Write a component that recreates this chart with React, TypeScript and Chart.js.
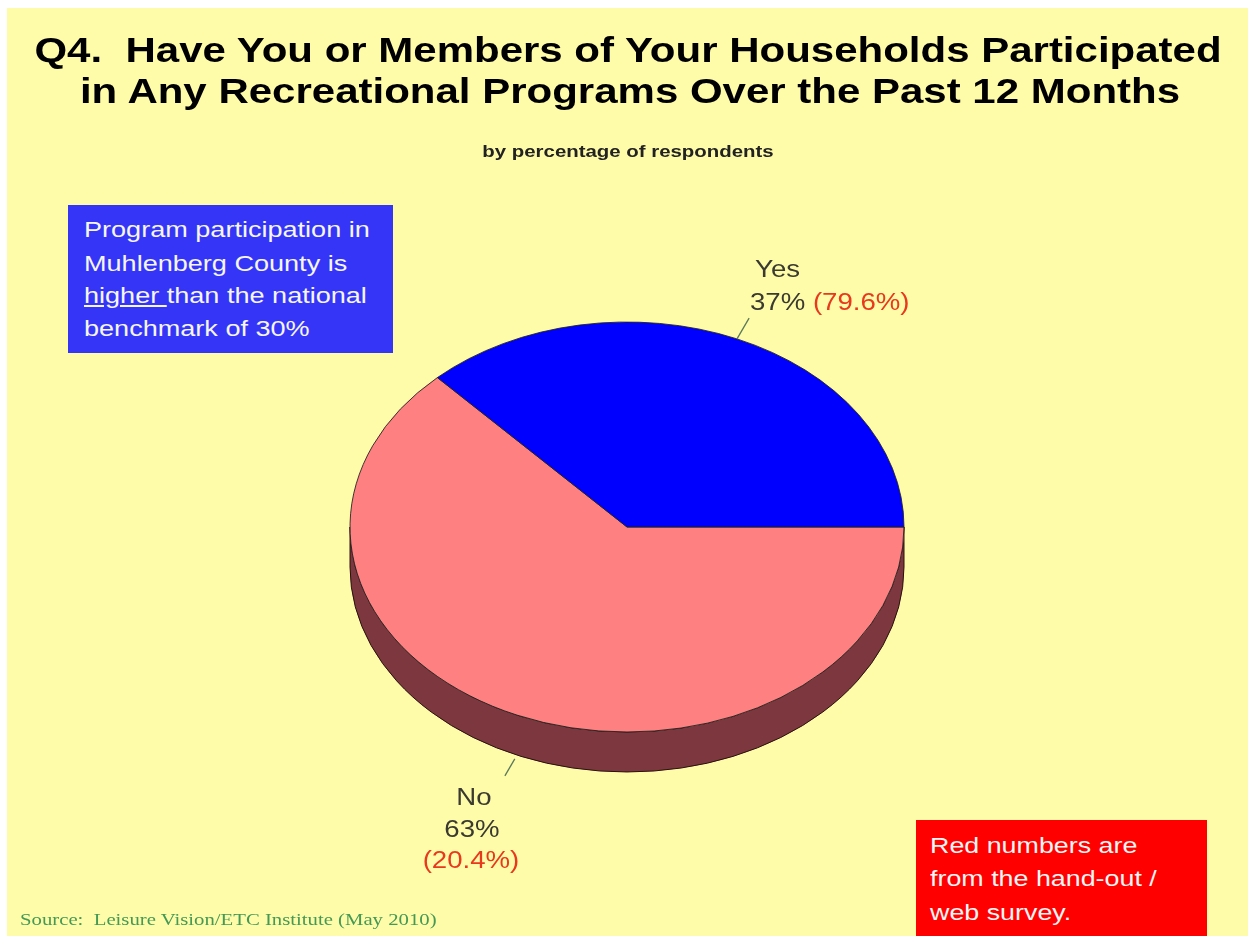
import React, { useEffect, useRef } from 'react';
import { Chart, registerables } from 'chart.js';

Chart.register(...registerables);

// ---- data ----
const categories = ['No', 'Yes'];
const surveyValues = [63, 37];
const handoutValues = [20.4, 79.6];
const sliceColors = ['#FF8080', '#0000FF'];
const sideColors = ['#7D383F', '#00007F'];

const TILT = 0.74;
const DEPTH = 40;

const pie3d = {
  id: 'pie3d',
  beforeDatasetsDraw(chart: any) {
    const ctx = chart.ctx;
    const meta = chart.getDatasetMeta(0);
    const a0 = meta.data[0];
    const x = a0.x, y = a0.y, r = a0.outerRadius;
    const ry = r * TILT;
    meta.data.forEach((arc: any, i: number) => {
      const s = arc.startAngle, e = arc.endAngle;
      const norm = (v: number) => ((v % (2 * Math.PI)) + 2 * Math.PI) % (2 * Math.PI);
      const ns = norm(s);
      const ne = ns + (e - s);
      const ranges: [number, number][] = [];
      for (const off of [0, 2 * Math.PI, -2 * Math.PI]) {
        const a = Math.max(ns + off, 0), b = Math.min(ne + off, Math.PI);
        if (a < b) ranges.push([a, b]);
      }
      ranges.forEach(([a, b]) => {
        ctx.save();
        ctx.beginPath();
        ctx.ellipse(x, y + DEPTH, r, ry, 0, a, b, false);
        ctx.ellipse(x, y, r, ry, 0, b, a, true);
        ctx.closePath();
        ctx.fillStyle = sideColors[i];
        ctx.fill();
        ctx.strokeStyle = '#2a1010';
        ctx.lineWidth = 1;
        ctx.stroke();
        ctx.restore();
      });
    });
    ctx.save();
    ctx.translate(x, y);
    ctx.scale(1, TILT);
    ctx.translate(-x, -y);
  },
  afterDatasetsDraw(chart: any) {
    const ctx = chart.ctx;
    ctx.restore();
    const meta = chart.getDatasetMeta(0);
    meta.data.forEach((arc: any) => {
      const x = arc.x, y = arc.y, r = arc.outerRadius, ry = r * TILT;
      const mid = (arc.startAngle + arc.endAngle) / 2;
      const c = Math.cos(mid), s = Math.sin(mid);
      const front = s > 0;
      const f0 = front ? 1.02 : 1.0;
      const f1 = 1.11;
      const d = front ? DEPTH : 0;
      ctx.save();
      ctx.beginPath();
      ctx.moveTo(x + r * c * f0, y + ry * s * f0 + d);
      ctx.lineTo(x + r * c * f1, y + ry * s * f1 + d);
      ctx.strokeStyle = '#5A7A5A';
      ctx.lineWidth = 1.3;
      ctx.stroke();
      ctx.restore();
    });
  },
};

type TProps = {
  x: number;
  by: number;
  size: number;
  bold?: boolean;
  color?: string;
  sx?: number;
  center?: boolean;
  serif?: boolean;
  children: React.ReactNode;
};

function T({ x, by, size, bold, color = '#000', sx = 1.2, center, serif, children }: TProps) {
  const base = serif ? 0.8375 : 0.8465;
  return (
    <div
      style={{
        position: 'absolute',
        left: x,
        top: by - base * size,
        fontSize: size,
        lineHeight: 1,
        fontWeight: bold ? 'bold' : 'normal',
        fontFamily: serif
          ? '"Liberation Serif", "Times New Roman", serif'
          : '"Liberation Sans", Arial, sans-serif',
        color,
        whiteSpace: 'pre',
        transform: center ? `translateX(-50%) scaleX(${sx})` : `scaleX(${sx})`,
        transformOrigin: center ? 'center top' : 'left top',
      }}
    >
      {children}
    </div>
  );
}

export default function App() {
  const ref = useRef<HTMLCanvasElement>(null);

  useEffect(() => {
    if (!ref.current) return;
    const chart = new Chart(ref.current, {
      type: 'pie',
      data: {
        labels: categories,
        datasets: [
          {
            data: surveyValues,
            backgroundColor: sliceColors,
            borderColor: '#202020',
            borderWidth: 1,
          },
        ],
      },
      options: {
        responsive: false,
        animation: false,
        events: [],
        rotation: 90,
        radius: 277,
        layout: { padding: { left: 350, right: 1248 - 904, top: 250, bottom: 936 - 804 } },
        plugins: {
          legend: { display: false },
          tooltip: { enabled: false },
          title: { display: false },
        },
      } as any,
      plugins: [pie3d],
    });
    return () => chart.destroy();
  }, []);

  const labelColor = '#3A3A30';
  const red = '#E8381E';

  return (
    <div style={{ position: 'fixed', left: 0, top: 0, width: 1248, height: 936, background: '#fff', overflow: 'hidden' }}>
      <div style={{ position: 'absolute', left: 7, top: 8, width: 1241, height: 928, background: '#FFFCA9' }} />
      <canvas ref={ref} width={1248} height={936} style={{ position: 'absolute', left: 0, top: 0 }} />

      <T x={628} by={62} size={35} bold center>
        Q4.  Have You or Members of Your Households Participated
      </T>
      <T x={630} by={103} size={35} bold center>
        in Any Recreational Programs Over the Past 12 Months
      </T>
      <T x={628} by={157} size={17} bold center color="#222">
        by percentage of respondents
      </T>

      <div style={{ position: 'absolute', left: 68, top: 205, width: 325, height: 148, background: '#3535F8' }} />
      <T x={84} by={238} size={22} color="#F6F6F6" sx={1.23}>Program participation in</T>
      <T x={84} by={272} size={22} color="#F6F6F6" sx={1.23}>Muhlenberg County is</T>
      <T x={84} by={304} size={22} color="#F6F6F6" sx={1.23}>
        <span style={{ textDecoration: 'underline' }}>higher </span>than the national
      </T>
      <T x={84} by={337} size={22} color="#F6F6F6" sx={1.23}>benchmark of 30%</T>

      <T x={755} by={277} size={23} color={labelColor}>{categories[1]}</T>
      <T x={750} by={310} size={23} color={labelColor}>
        {`${surveyValues[1]}% `}
        <span style={{ color: red }}>{`(${handoutValues[1].toFixed(1)}%)`}</span>
      </T>

      <T x={474} by={805} size={23} color={labelColor} center>{categories[0]}</T>
      <T x={472} by={837} size={23} color={labelColor} center>{`${surveyValues[0]}%`}</T>
      <T x={471} by={868} size={23} color={red} center>{`(${handoutValues[0].toFixed(1)}%)`}</T>

      <div style={{ position: 'absolute', left: 916, top: 820, width: 291, height: 116, background: '#FF0000' }} />
      <T x={930} by={854} size={22} color="#F6F6F6" sx={1.22}>Red numbers are</T>
      <T x={930} by={887} size={22} color="#F6F6F6" sx={1.22}>from the hand-out /</T>
      <T x={930} by={921} size={22} color="#F6F6F6" sx={1.22}>web survey.</T>

      <T x={20} by={925} size={17} serif color="#449955" sx={1.22}>
        Source:  Leisure Vision/ETC Institute (May 2010)
      </T>
    </div>
  );
}
